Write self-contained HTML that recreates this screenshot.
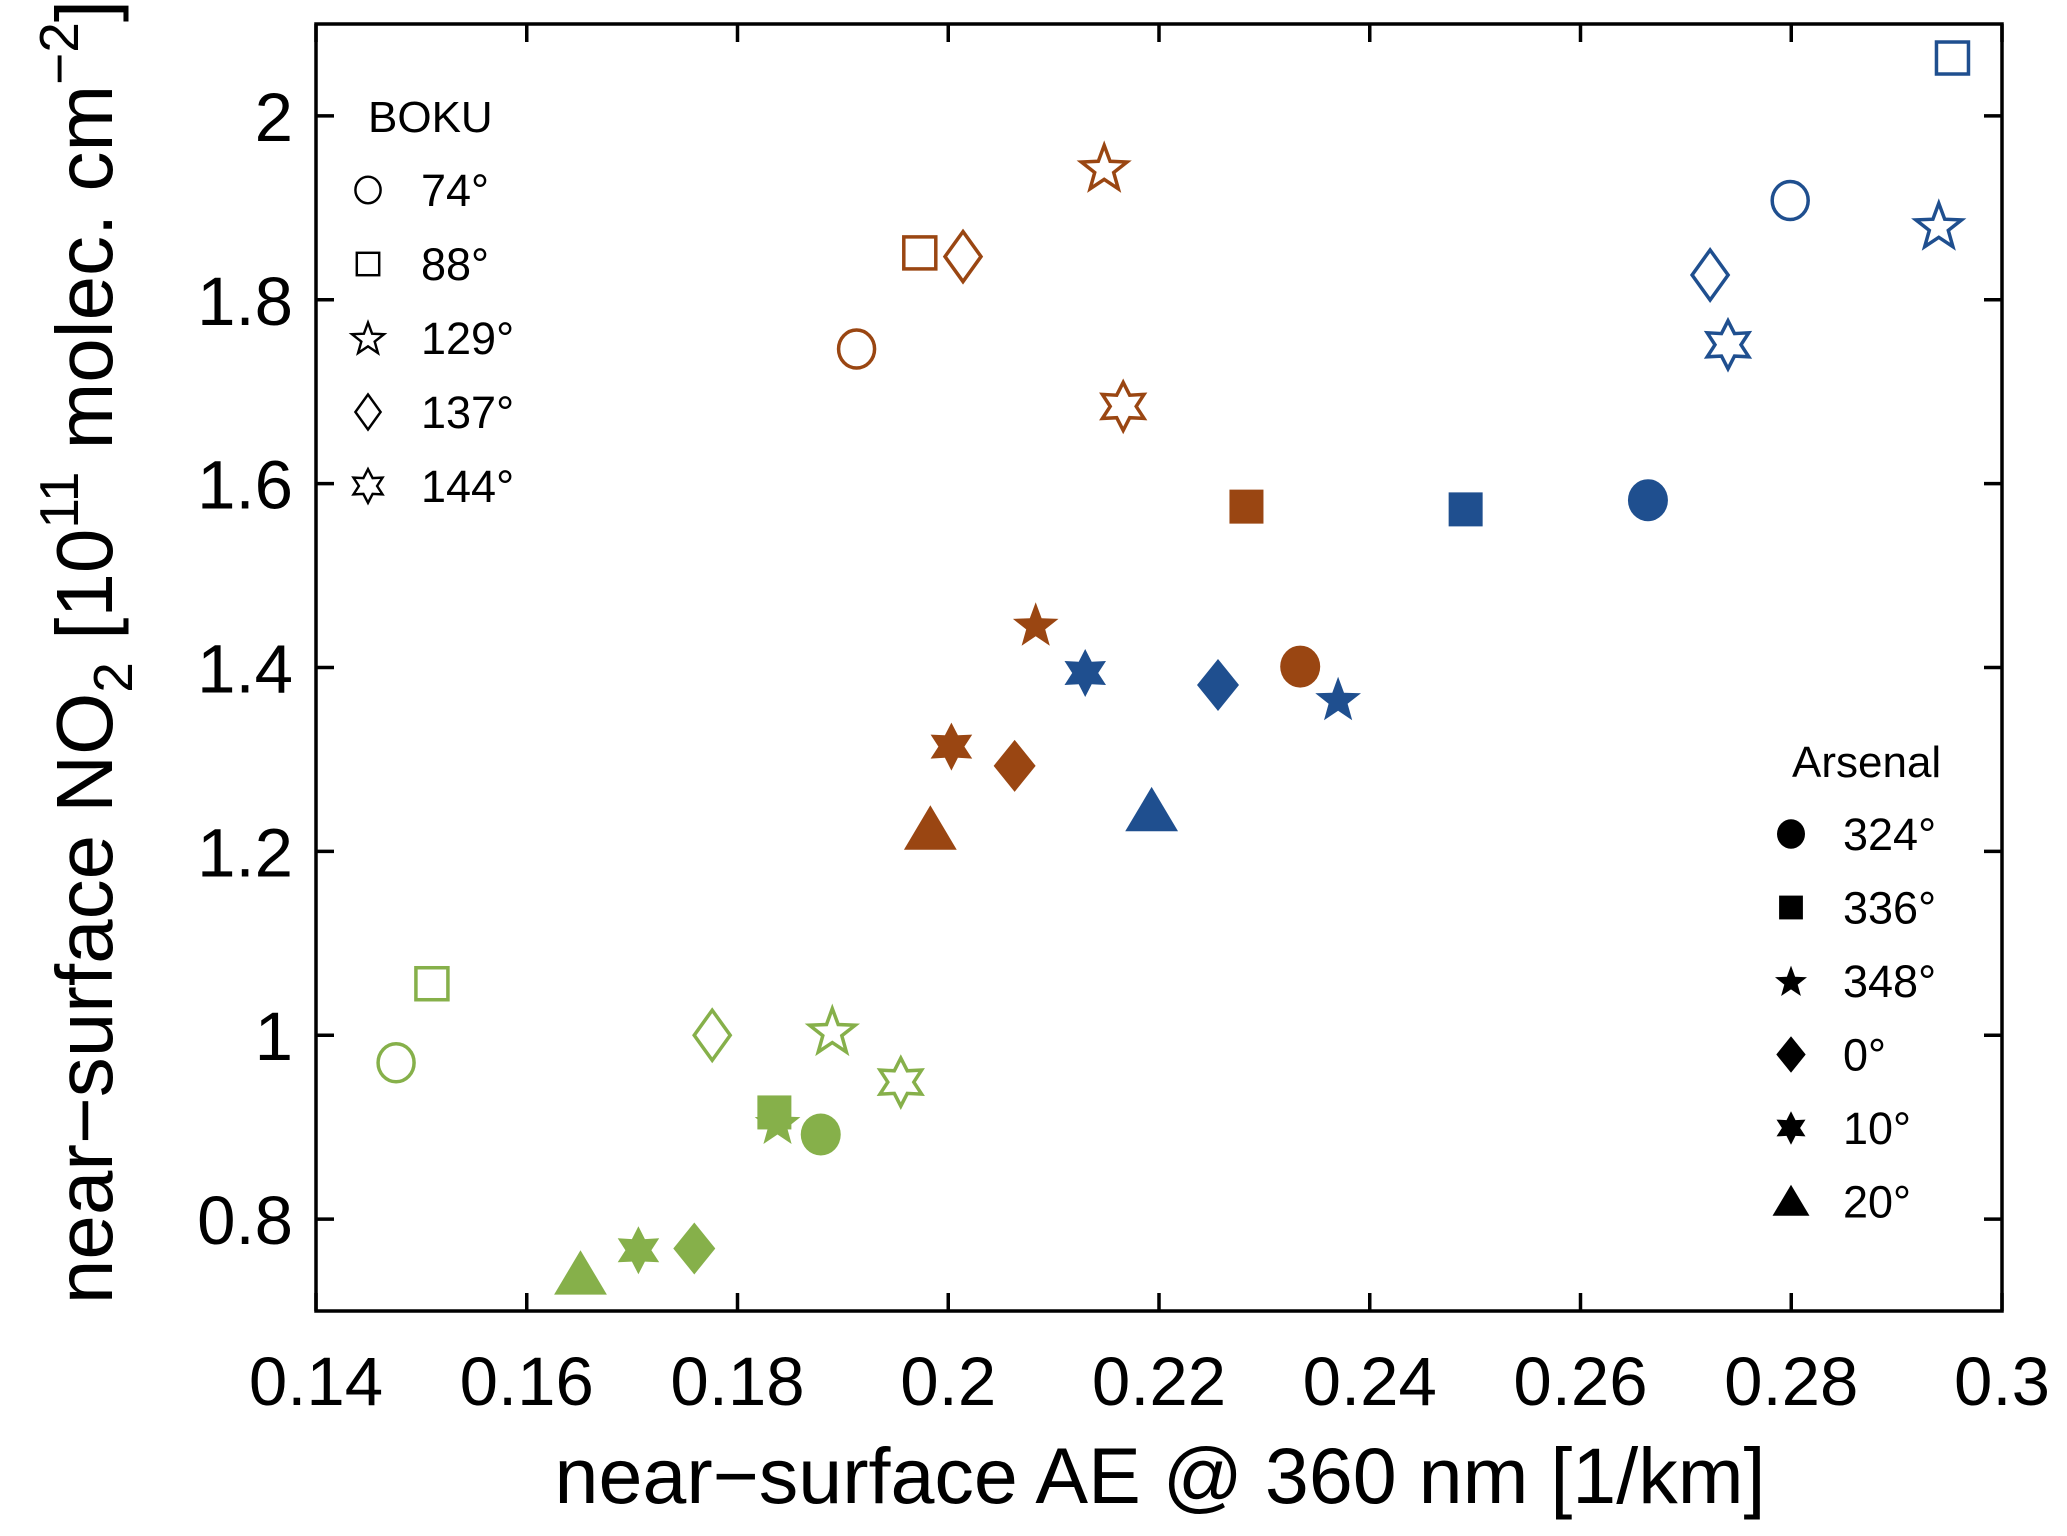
<!DOCTYPE html>
<html><head><meta charset="utf-8"><style>
html,body{margin:0;padding:0;background:#fff}
svg{display:block}
text{font-family:"Liberation Sans",Arial,sans-serif;fill:#000}
</style></head><body>
<svg id="chart" width="2067" height="1536" viewBox="0 0 2067 1536" xmlns="http://www.w3.org/2000/svg">
<g id="marks"></g>
<g id="axes"></g>
<g id="legends"></g>
</svg>
<script>
const xTicks=[0.14,0.16,0.18,0.2,0.22,0.24,0.26,0.28,0.3];
const xTickLabels=["0.14","0.16","0.18","0.2","0.22","0.24","0.26","0.28","0.3"];
const yTicks=[0.8,1.0,1.2,1.4,1.6,1.8,2.0];
const yTickLabels=["0.8","1","1.2","1.4","1.6","1.8","2"];
const seriesColors=["#86b04a","#9a4612","#1f4f8f"];
const seriesNames=["green","brown","blue"];
const markerTypes=["circle","square","star5","diamond","star6","fcircle","fsquare","fstar5","fdiamond","fstar6","ftriangle"];
const greenX=[0.1476,0.151,0.189,0.1776,0.1955,0.1879,0.1835,0.1838,0.1759,0.1706,0.1651];
const greenY=[0.970,1.056,1.005,1.000,0.949,0.892,0.916,0.905,0.768,0.766,0.740];
const brownX=[0.1913,0.1973,0.2148,0.2014,0.2166,0.2334,0.2283,0.2083,0.2063,0.2003,0.1983];
const brownY=[1.7465,1.851,1.944,1.847,1.684,1.401,1.575,1.447,1.293,1.314,1.224];
const blueX=[0.2799,0.2953,0.294,0.2723,0.274,0.2664,0.2491,0.237,0.2256,0.213,0.2193];
const blueY=[1.908,2.063,1.881,1.827,1.751,1.582,1.572,1.366,1.381,1.394,1.244];
const bokuLabels=["74°","88°","129°","137°","144°"];
const bokuShapes=["circle","square","star5","diamond","star6"];
const arsLabels=["324°","336°","348°","0°","10°","20°"];
const arsShapes=["fcircle","fsquare","fstar5","fdiamond","fstar6","ftriangle"];

const L=316,R=2002,T=24,B=1311,X0=0.14,X1=0.3,Y0=0.7,Y1=2.1;
const sx=v=>L+(v-X0)/(X1-X0)*(R-L);
const sy=v=>B-(v-Y0)/(Y1-Y0)*(B-T);
const NS="http://www.w3.org/2000/svg";
function mk(tag,attrs,parent){const e=document.createElementNS(NS,tag);for(const k in attrs)e.setAttribute(k,attrs[k]);parent.appendChild(e);return e;}
function starPts(cx,cy,n,ro,ri){let p=[];for(let i=0;i<2*n;i++){const r=i%2?ri:ro;const a=-Math.PI/2+i*Math.PI/n;p.push((cx+r*Math.cos(a)).toFixed(1)+","+(cy+r*Math.sin(a)).toFixed(1));}return p.join(" ");}
function marker(type,cx,cy,color,parent,scale){
  const s=scale||1;const filled=type[0]==="f";const t=filled?type.slice(1):type;
  const st=filled?{fill:color}:{fill:"#fff",stroke:color,"stroke-width":3.5*s};
  let e;
  if(t==="circle"){e=mk("ellipse",Object.assign({cx,cy,rx:(filled?20:18)*s,ry:(filled?21:19)*s},st),parent);}
  else if(t==="square"){const h=(filled?17:16)*s;e=mk("rect",Object.assign({x:cx-h,y:cy-h,width:2*h,height:2*h},st),parent);}
  else if(t==="diamond"){const w=(filled?21:18)*s,h=(filled?26:25)*s;e=mk("polygon",Object.assign({points:`${cx},${cy-h} ${cx+w},${cy} ${cx},${cy+h} ${cx-w},${cy}`},st),parent);}
  else if(t==="star5"){e=mk("polygon",Object.assign({points:starPts(cx,cy+2*s,5,24*s,10*s)},st),parent);}
  else if(t==="star6"){e=mk("polygon",Object.assign({points:starPts(cx,cy,6,24*s,13*s)},st),parent);}
  else if(t==="triangle"){const h=24*s;e=mk("polygon",Object.assign({points:`${cx},${cy-h} ${cx+h*1.1},${cy+h*0.85} ${cx-h*1.1},${cy+h*0.85}`},st),parent);}
  return e;
}
const marks=document.getElementById("marks");
const allX=[greenX,brownX,blueX],allY=[greenY,brownY,blueY];
for(let s=0;s<3;s++){
  for(let i=0;i<allX[s].length;i++){
    const e=marker(markerTypes[i],sx(allX[s][i]),sy(allY[s][i]),seriesColors[s],marks);
    
    
  }
}
const ax=document.getElementById("axes");
const frame=mk("rect",{x:L,y:T,width:R-L,height:B-T,fill:"none",stroke:"#000","stroke-width":3.5},ax);


const tl=18;
xTicks.forEach((v,i)=>{const x=sx(v);
  mk("line",{x1:x,y1:B,x2:x,y2:B-tl,stroke:"#000","stroke-width":3.5},ax);
  mk("line",{x1:x,y1:T,x2:x,y2:T+tl,stroke:"#000","stroke-width":3.5},ax);
  const t=mk("text",{x:x,y:1405,"text-anchor":"middle","font-size":69},ax);t.textContent=xTickLabels[i];
  
  
});
yTicks.forEach((v,i)=>{const y=sy(v);
  mk("line",{x1:L,y1:y,x2:L+tl,y2:y,stroke:"#000","stroke-width":3.5},ax);
  mk("line",{x1:R,y1:y,x2:R-tl,y2:y,stroke:"#000","stroke-width":3.5},ax);
  const t=mk("text",{x:293,y:y+25,"text-anchor":"end","font-size":69},ax);t.textContent=yTickLabels[i];
  
  
});
const xl=mk("text",{x:1160,y:1503,"text-anchor":"middle","font-size":79},ax);
xl.textContent="near\u2212surface AE @ 360 nm [1/km]";


const yl=mk("text",{x:0,y:0,"text-anchor":"middle","font-size":80,transform:"translate(112,652) rotate(-90)"},ax);
yl.innerHTML='near\u2212surface NO<tspan dy="20" font-size="55">2</tspan><tspan dy="-20"> [10</tspan><tspan dy="-34" font-size="55">11</tspan><tspan dy="34"> molec. cm</tspan><tspan dy="-34" font-size="55">\u22122</tspan><tspan dy="34">]</tspan>';



const lg=document.getElementById("legends");
const bt=mk("text",{x:368,y:132,"font-size":44},lg);bt.textContent="BOKU";


bokuLabels.forEach((lab,i)=>{const y=190+i*74;
  const m=marker(bokuShapes[i],368,y,"#000",lg,0.7);
  
  
  const t=mk("text",{x:421,y:y+16,"font-size":45},lg);t.textContent=lab.replace("°"," °").replace(" °","°");
  
  
});
const at=mk("text",{x:1792,y:777,"font-size":44},lg);at.textContent="Arsenal";


arsLabels.forEach((lab,i)=>{const y=834+i*73.5;
  const m=marker(arsShapes[i],1791,y,"#000",lg,0.7);
  
  
  const t=mk("text",{x:1843,y:y+16,"font-size":45},lg);t.textContent=lab;
  
  
});
</script>
</body></html>
